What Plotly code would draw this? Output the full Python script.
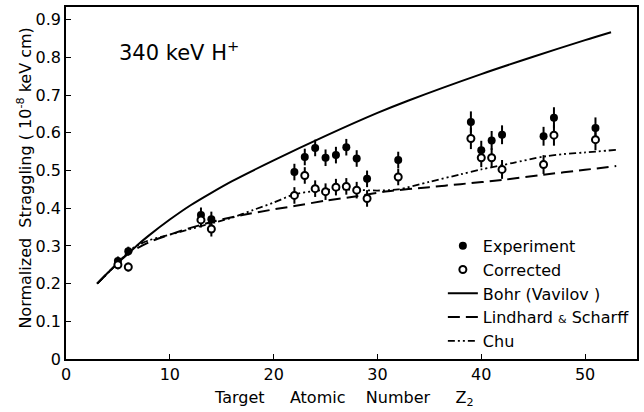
import plotly.graph_objects as go

# Experimental data
z_exp = [5, 6, 13, 14, 22, 23, 24, 25, 26, 27, 28, 29, 32, 39, 40, 41, 42, 46, 47, 51]
s_exp = [0.26, 0.286, 0.382, 0.371, 0.496, 0.536, 0.560, 0.534, 0.541, 0.562, 0.532, 0.478,
         0.528, 0.629, 0.554, 0.580, 0.595, 0.591, 0.640, 0.613]
s_exp_err = [0.012, 0.012, 0.02, 0.02, 0.022, 0.022, 0.022, 0.022, 0.022, 0.022, 0.022, 0.022,
             0.022, 0.028, 0.025, 0.025, 0.025, 0.025, 0.028, 0.028]

z_cor = [5, 6, 13, 14, 22, 23, 24, 25, 26, 27, 28, 29, 32, 39, 40, 41, 42, 46, 47, 51]
s_cor = [0.25, 0.244, 0.369, 0.345, 0.434, 0.487, 0.452, 0.444, 0.456, 0.458, 0.448, 0.426,
         0.483, 0.585, 0.534, 0.534, 0.503, 0.516, 0.594, 0.582]
s_cor_err = [0.012, 0.012, 0.02, 0.02, 0.022, 0.022, 0.022, 0.022, 0.022, 0.022, 0.022, 0.022,
             0.022, 0.028, 0.025, 0.025, 0.025, 0.025, 0.028, 0.028]

# Theory curves
z_bohr = [3, 4, 5, 6, 7, 8, 10, 12, 14, 16, 20, 25, 30, 33, 40, 45, 50, 52.5]
s_bohr = [0.2, 0.228, 0.255, 0.28, 0.305, 0.328, 0.37, 0.408, 0.441, 0.472, 0.527, 0.592,
          0.653, 0.686, 0.756, 0.802, 0.846, 0.867]

z_ls = [3, 5, 6, 8, 10, 12, 14.5, 17, 19.6, 22, 25, 28, 31, 35, 38, 42, 46, 50, 53]
s_ls = [0.2, 0.255, 0.28, 0.31, 0.33, 0.348, 0.367, 0.382, 0.395, 0.406, 0.42, 0.432,
        0.445, 0.456, 0.464, 0.475, 0.489, 0.502, 0.512]

z_chu = [3, 5, 6, 7, 8, 10, 12, 14, 16, 18, 20, 22, 24, 26, 28, 30, 32, 35, 38, 40,
         43, 46, 48, 50, 53]
s_chu = [0.2, 0.255, 0.285, 0.303, 0.315, 0.33, 0.345, 0.36, 0.375, 0.395, 0.415, 0.437,
         0.446, 0.45, 0.449, 0.447, 0.45, 0.47, 0.49, 0.503, 0.52, 0.537, 0.544, 0.548, 0.555]

x_ticks = [0, 10, 20, 30, 40, 50]
y_ticks = [0, 0.1, 0.2, 0.3, 0.4, 0.5, 0.6, 0.7, 0.8, 0.9]
y_tick_text = ["0", "0.1", "0.2", "0.3", "0.4", "0.5", "0.6", "0.7", "0.8", "0.9"]

FONT = "DejaVu Sans"

fig = go.Figure()

fig.add_trace(go.Scatter(x=z_bohr, y=s_bohr, mode="lines", name="Bohr (Vavilov )",
                         line=dict(color="black", width=2, shape="spline", smoothing=0.8),
                         legendrank=3))
fig.add_trace(go.Scatter(x=z_ls, y=s_ls, mode="lines",
                         name="Lindhard <span style='font-size:11px'>&amp;</span> Scharff",
                         line=dict(color="black", width=2, dash="12px,6px", shape="spline",
                                   smoothing=0.8),
                         legendrank=4))
fig.add_trace(go.Scatter(x=z_chu, y=s_chu, mode="lines", name="Chu",
                         line=dict(color="black", width=1.8, dash="7px,3px,2px,3px,2px,3px",
                                   shape="spline", smoothing=0.8),
                         legendrank=5))
fig.add_trace(go.Scatter(x=z_exp, y=s_exp, mode="markers", name="Experiment",
                         marker=dict(color="black", size=8),
                         error_y=dict(type="data", array=s_exp_err, color="black",
                                      thickness=2, width=0),
                         legendrank=1))
fig.add_trace(go.Scatter(x=z_cor, y=s_cor, mode="markers", name="Corrected",
                         marker=dict(color="white", size=7, line=dict(color="black", width=2)),
                         error_y=dict(type="data", array=s_cor_err, color="black",
                                      thickness=2, width=0),
                         legendrank=2))

fig.add_annotation(x=0.09, y=0.876, xref="paper", yref="paper", xanchor="left",
                   yanchor="middle", showarrow=False,
                   text="340 keV H<sup>+</sup>", font=dict(family=FONT, size=21, color="black"))

# axis titles as annotations for exact placement
fig.add_annotation(x=0.486, y=-0.078, xref="paper", yref="paper", xanchor="center",
                   yanchor="top", showarrow=False,
                   text="Target&nbsp;&nbsp;&nbsp;&nbsp; Atomic&nbsp;&nbsp;&nbsp; Number&nbsp;&nbsp;&nbsp;&nbsp; Z<sub>2</sub>",
                   font=dict(family=FONT, size=16, color="black"))
fig.add_annotation(x=-0.072, y=0.515, xref="paper", yref="paper", xanchor="center",
                   yanchor="middle", showarrow=False, textangle=-90,
                   text="Normalized&nbsp;&nbsp;Straggling (&nbsp;10<sup>-8</sup> keV cm)",
                   font=dict(family=FONT, size=16, color="black"))

fig.update_layout(
    width=644, height=412,
    margin=dict(l=66, r=5, t=5, b=53),
    paper_bgcolor="white", plot_bgcolor="white",
    font=dict(family=FONT, size=16, color="black"),
    showlegend=True,
    legend=dict(x=0.66, y=0.37, xanchor="left", yanchor="top",
                bgcolor="rgba(0,0,0,0)", font=dict(family=FONT, size=16),
                tracegroupgap=0, itemwidth=30),
    xaxis=dict(range=[0, 55], tickvals=x_ticks, ticks="inside", ticklen=5,
               tickwidth=1.2, tickcolor="black",
               showline=True, linecolor="black", linewidth=1.5, mirror=True,
               showgrid=False, zeroline=False),
    yaxis=dict(range=[0, 0.934], tickvals=y_ticks, ticktext=y_tick_text,
               ticks="inside", ticklen=5, tickwidth=1.2, tickcolor="black",
               showline=True, linecolor="black", linewidth=1.5, mirror=True,
               showgrid=False, zeroline=False),
)

fig.write_html("out.html", config={"displayModeBar": False},
               post_script="document.body.style.margin='0px';")
